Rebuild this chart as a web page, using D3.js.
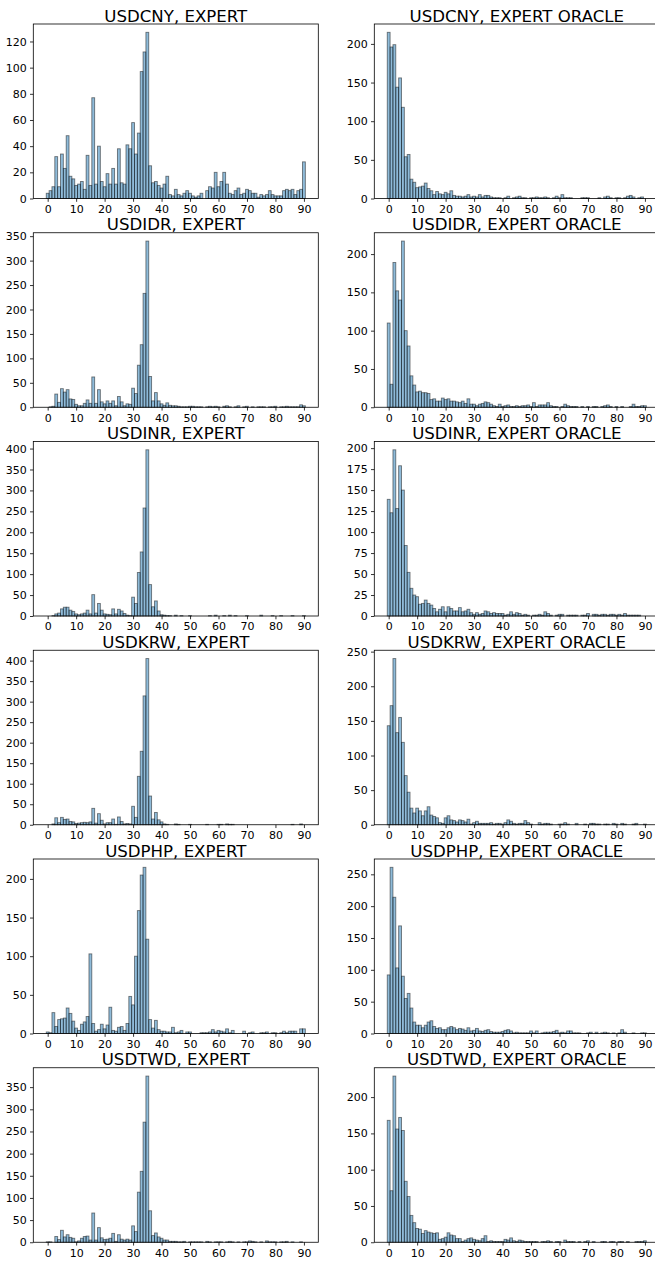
<!DOCTYPE html>
<html><head><meta charset="utf-8">
<script src="https://cdn.jsdelivr.net/npm/d3@7"></script>
<style>body{margin:0;background:#fff}svg{display:block}</style>
</head><body><svg id="c" width="655" height="1261"></svg>
<script>
const bins = d3.range(0, 91);
const pairs = ["USDCNY", "USDIDR", "USDINR", "USDKRW", "USDPHP", "USDTWD"];
const kinds = ["EXPERT", "EXPERT ORACLE"];
const xTicks = [0, 10, 20, 30, 40, 50, 60, 70, 80, 90];
const yTickSteps = [[20, 50], [50, 50], [50, 25], [50, 50], [50, 50], [50, 50]];

const cnyExpert = [4,6,9,32,9,34,23,48,17,15, 10,11,13,7,33,10,77,11,40,13, 9,19,11,23,11,38,12,11,41,38, 58,34,50,97,112,127,25,12,13,10, 8,11,17,3,2,7,3,2,4,6, 4,2,1,2,4,0,6,9,8,20, 9,13,20,11,4,3,6,8,3,4, 7,6,4,4,1,3,2,3,6,3, 2,2,2,6,7,6,7,3,6,7, 28];
const cnyOracle = [215,196,199,144,156,118,54,57,25,21, 14,15,16,20,13,10,5,9,6,5, 8,6,10,4,3,3,2,3,5,2, 3,2,5,2,4,4,2,1,1,1, 0,1,3,0,1,2,3,1,1,0, 1,1,2,1,1,2,1,0,1,3, 1,5,1,1,1,0,0,0,1,1, 1,0,0,0,1,0,2,3,1,0, 1,1,0,1,3,4,2,0,1,2, 0];
const idrExpert = [0,1,2,27,10,38,31,36,17,16, 6,3,3,8,15,8,62,8,36,11, 7,13,8,13,3,22,11,3,7,6, 39,28,86,128,233,340,63,13,30,13, 7,4,9,4,3,3,2,1,1,1, 2,2,1,1,1,0,1,2,1,2, 1,0,2,3,1,0,1,3,0,1, 2,0,1,0,1,1,1,0,1,1, 2,0,1,1,2,1,1,1,1,5, 3];
const idrOracle = [110,30,189,152,140,217,100,80,41,29, 20,21,19,19,18,10,11,8,8,12, 10,11,8,8,7,6,8,5,11,4, 4,2,4,5,7,6,4,2,1,4, 1,2,3,1,1,2,1,2,2,3, 1,6,1,3,3,3,6,2,1,1, 0,1,4,2,1,1,1,0,1,0, 1,0,1,1,0,1,2,3,1,0, 1,0,1,0,0,1,4,1,1,2, 2];
const inrExpert = [0,0,1,5,7,17,21,21,14,11, 5,3,5,7,14,5,51,7,30,14, 5,4,3,17,5,16,12,6,2,1, 45,30,104,153,258,397,75,22,36,12, 3,2,1,1,0,2,0,1,0,0, 1,0,0,0,0,0,0,1,0,2, 0,0,1,0,2,0,1,0,0,0, 1,0,0,0,0,2,0,0,0,1, 0,0,1,0,0,0,1,0,0,0, 1];
const inrOracle = [139,123,198,128,179,150,84,52,33,25, 23,14,15,19,15,13,9,5,8,11, 5,11,9,6,6,10,5,6,8,4, 2,4,2,3,6,5,3,4,3,3, 3,1,2,5,2,4,3,1,2,1, 0,1,1,2,1,5,3,1,0,1, 2,2,0,1,1,1,1,0,1,1, 3,0,2,2,1,2,2,1,2,2, 1,2,1,3,1,1,1,1,1,0, 0];
const krwExpert = [0,0,2,17,5,18,13,14,8,7, 3,4,5,6,5,7,40,4,27,11, 2,5,5,14,1,19,8,2,3,2, 45,18,118,179,314,405,70,14,30,12, 7,2,1,0,0,2,1,0,0,0, 1,0,0,0,0,0,1,0,0,0, 1,1,0,2,1,1,0,0,0,0, 0,0,0,0,0,0,0,0,0,0, 0,0,0,0,0,0,1,0,0,2, 0];
const krwOracle = [143,172,240,133,155,119,71,47,24,17, 24,20,13,20,26,14,12,10,3,2, 10,13,7,6,4,7,6,4,8,1, 3,5,2,2,2,2,3,1,2,2, 1,3,7,5,2,1,2,2,6,3, 1,0,0,3,1,2,2,1,0,0, 1,1,3,1,0,0,2,0,0,1, 0,2,2,1,1,0,1,1,0,2, 1,0,2,1,0,0,1,2,0,0, 1];
const phpExpert = [2,1,27,9,18,19,20,33,26,16, 7,4,12,15,22,103,13,3,5,12, 6,11,34,4,3,8,9,4,13,48, 37,100,159,205,215,122,18,7,17,5, 3,3,2,2,8,1,2,4,0,2, 2,0,0,0,1,1,1,2,5,2, 4,3,2,6,1,4,0,0,0,3, 0,1,2,0,0,1,1,2,0,1, 1,0,1,3,1,3,3,3,0,6, 6];
const phpOracle = [92,261,214,103,169,90,55,63,40,18, 13,13,9,13,18,20,11,8,9,6, 6,9,11,9,6,8,7,5,9,4, 5,8,4,3,5,6,3,2,2,2, 3,5,6,4,1,2,1,1,1,1, 4,1,4,0,1,2,2,2,3,5, 1,2,1,4,4,1,1,1,0,0, 1,2,0,2,0,1,2,1,0,1, 0,1,6,2,0,0,1,0,0,1, 1];
const twdExpert = [1,1,0,13,6,27,12,17,11,9, 1,3,9,13,14,5,66,5,33,10, 6,7,9,20,2,17,7,5,7,5, 37,24,113,160,271,375,71,15,21,12, 9,5,5,2,2,2,1,1,2,0, 1,1,1,1,1,0,2,1,0,1, 1,1,0,1,2,1,0,1,0,1, 1,3,2,1,0,1,0,3,1,1, 1,0,1,1,2,0,1,0,0,1, 0];
const twdOracle = [168,71,229,156,172,154,84,63,37,27, 19,18,12,16,14,13,12,13,4,5, 7,13,10,9,5,5,1,3,5,6, 4,3,2,5,9,1,2,1,1,1, 1,4,3,6,2,1,3,2,1,1, 1,1,1,0,1,1,2,1,0,1, 1,0,3,1,1,1,0,1,0,1, 2,0,1,0,0,1,1,0,1,1, 0,1,1,0,1,0,0,1,1,1, 2];

const series = [
  [cnyExpert, cnyOracle],
  [idrExpert, idrOracle],
  [inrExpert, inrOracle],
  [krwExpert, krwOracle],
  [phpExpert, phpOracle],
  [twdExpert, twdOracle]
];

const svg = d3.select("#c");
const FONT = "DejaVu Sans, sans-serif";
const colX = [33.3, 374.3], W = 285, H = 174.5;
const rowTop = r => 24 + 208.75 * r;

pairs.forEach((pair, r) => {
  kinds.forEach((kind, c) => {
    const vals = series[r][c];
    const x0 = colX[c], y0 = rowTop(r);
    const g = svg.append("g").attr("transform", `translate(${x0},${y0})`);
    const x = d3.scaleLinear().domain([-0.5 - 4.55, 90.5 + 4.55]).range([0, W]);
    const ymax = d3.max(vals) * 1.05;
    const y = d3.scaleLinear().domain([0, ymax]).range([H, 0]);

    g.selectAll("rect.bar").data(bins).join("rect")
      .attr("class", "bar")
      .attr("x", d => x(d - 0.5))
      .attr("width", d => x(d + 0.5) - x(d - 0.5))
      .attr("y", d => y(vals[d]))
      .attr("height", d => H - y(vals[d]))
      .attr("fill", "#1f77b4").attr("fill-opacity", 0.5)
      .attr("stroke", "#000").attr("stroke-opacity", 0.5).attr("stroke-width", 0.9);

    const step = yTickSteps[r][c];
    const yTicks = d3.range(0, ymax + 1e-9, step);
    const ya = g.append("g").call(d3.axisLeft(y).tickValues(yTicks).tickSize(3.3).tickPadding(3.2).tickFormat(d3.format("d")));
    const xa = g.append("g").attr("transform", `translate(0,${H})`)
      .call(d3.axisBottom(x).tickValues(xTicks).tickSize(3.3).tickPadding(3.2).tickFormat(d3.format("d")));
    [ya, xa].forEach(a => {
      a.select(".domain").remove();
      a.selectAll("line").attr("stroke", "#000").attr("stroke-width", 0.8);
      a.selectAll("text").attr("fill", "#000").style("font-family", FONT).style("font-size", "11px");
    });
    g.append("rect").attr("x", 0).attr("y", 0).attr("width", W).attr("height", H)
      .attr("fill", "none").attr("stroke", "#000").attr("stroke-width", 0.8);

    g.append("text").attr("x", W / 2).attr("y", -2.5)
      .attr("text-anchor", "middle")
      .style("font-family", FONT).style("font-size", "16.6px").attr("fill", "#000")
      .text(`${pair}, ${kind}`);
  });
});
</script></body></html>
